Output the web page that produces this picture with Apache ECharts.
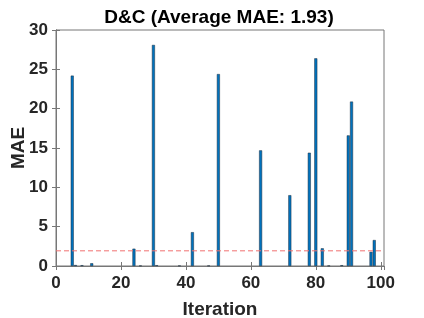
<!DOCTYPE html>
<html>
<head>
<meta charset="utf-8">
<script src="https://cdn.jsdelivr.net/npm/echarts@6/dist/echarts.min.js"></script>
<style>html,body{margin:0;padding:0;background:#fff;}#c{width:424px;height:318px;}</style>
</head>
<body>
<div id="c"></div>
<script>
const titleText = 'D&C (Average MAE: 1.93)';
const iterations = [5, 6, 8, 11, 24, 26, 30, 31, 38, 42, 47, 50, 63, 72, 78, 80, 82, 84, 88, 90, 91, 97, 98];
const maeValues = [24.2, 0.12, 0.1, 0.35, 2.2, 0.05, 28.1, 0.1, 0.05, 4.3, 0.05, 24.4, 14.7, 9.0, 14.4, 26.4, 2.25, 0.05, 0.1, 16.6, 20.9, 1.8, 3.3];
const averageMAE = 1.93;
const xTicks = [0, 20, 40, 60, 80, 100];
const yTicks = [0, 5, 10, 15, 20, 25, 30];

const font = 'Liberation Sans, Arial, Helvetica, sans-serif';
const axisCol = '#777777';
const barData = iterations.map((it, i) => [it, maeValues[i]]);

const chart = echarts.init(document.getElementById('c'), null, {renderer: 'canvas'});
const commonTick = {show: true, inside: true, length: 4, lineStyle: {color: axisCol, width: 1}};
chart.setOption({
  animation: false,
  title: {
    text: titleText, left: 214, top: 3, textAlign: 'center',
    textStyle: {fontFamily: font, fontWeight: 'bold', fontSize: 19, color: '#000'}
  },
  grid: {left: 56, right: 40, top: 30, bottom: 52, show: true, borderColor: axisCol, borderWidth: 1,
    containLabel: false, outerBoundsMode: 'none'},
  xAxis: [{
    type: 'value', min: 0, max: 101, interval: 20,
    name: 'Iteration', nameLocation: 'middle', nameGap: 34, nameMoveOverlap: false,
    nameTextStyle: {fontFamily: font, fontWeight: 'bold', fontSize: 19, color: '#262626'},
    axisLine: {show: true, lineStyle: {color: axisCol}},
    axisTick: commonTick,
    splitLine: {show: false},
    axisLabel: {fontFamily: font, fontWeight: 'bold', fontSize: 17, color: '#262626', margin: 9,
      showMaxLabel: false,
      formatter: v => xTicks.includes(v) ? String(v) : ''}
  }, {
    type: 'value', min: 0, max: 101, interval: 20, position: 'top',
    axisLine: {show: true, lineStyle: {color: axisCol}},
    axisTick: commonTick, axisLabel: {show: false}, splitLine: {show: false}
  }],
  yAxis: [{
    type: 'value', min: 0, max: 30, interval: 5,
    name: 'MAE', nameLocation: 'middle', nameGap: 28, nameRotate: 90, nameMoveOverlap: false,
    nameTextStyle: {fontFamily: font, fontWeight: 'bold', fontSize: 19, color: '#262626'},
    axisLine: {show: true, lineStyle: {color: axisCol}},
    axisTick: commonTick,
    splitLine: {show: false},
    axisLabel: {fontFamily: font, fontWeight: 'bold', fontSize: 17, color: '#262626', margin: 8,
      formatter: v => yTicks.includes(v) ? String(v) : ''}
  }, {
    type: 'value', min: 0, max: 30, interval: 5, position: 'right',
    axisLine: {show: true, lineStyle: {color: axisCol}},
    axisTick: commonTick, axisLabel: {show: false}, splitLine: {show: false}
  }],
  series: [{
    type: 'bar', xAxisIndex: 0, yAxisIndex: 0,
    data: barData, barWidth: 3,
    itemStyle: {color: '#0072BD', borderColor: '#1f2f3f', borderWidth: 0.5}
  }, {
    type: 'line', xAxisIndex: 0, yAxisIndex: 0,
    data: [[0, averageMAE], [101, averageMAE]],
    symbol: 'none', silent: true,
    lineStyle: {color: '#F07070', width: 1, type: [5, 3]}
  }]
});
</script>
</body>
</html>
